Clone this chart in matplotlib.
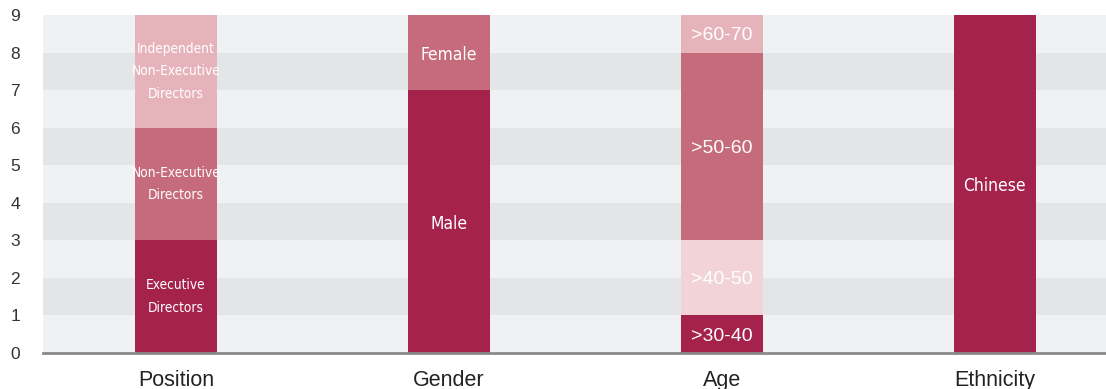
import matplotlib
matplotlib.use("Agg")
import matplotlib.pyplot as plt
from matplotlib import font_manager

# data
categories = ["Position", "Gender", "Age", "Ethnicity"]
position_labels = ["Executive\nDirectors", "Non-Executive\nDirectors", "Independent\nNon-Executive\nDirectors"]
position_values = [3, 3, 3]
gender_labels = ["Male", "Female"]
gender_values = [7, 2]
age_labels = [">30-40", ">40-50", ">50-60", ">60-70"]
age_values = [1, 2, 5, 1]
ethnicity_labels = ["Chinese"]
ethnicity_values = [9]

DARK = "#a4224b"
MID = "#c56b7b"
LIGHT = "#e6b3bb"
PALE = "#f2d3d8"

position_colors = [DARK, MID, LIGHT]
gender_colors = [DARK, MID]
age_colors = [DARK, PALE, MID, LIGHT]
ethnicity_colors = [DARK]

installed = {f.name for f in font_manager.fontManager.ttflist}
if "Liberation Sans Narrow" in installed:
    narrow = dict(family="Liberation Sans Narrow")
else:
    narrow = dict(family="DejaVu Sans", fontstretch="condensed")
regular = dict(family="Liberation Sans")

plt.rcParams["font.family"] = ["Liberation Sans", "DejaVu Sans"]

fig = plt.figure(figsize=(11.06, 3.89), dpi=100)
ax = fig.add_axes([0.0389, 0.0925, 0.9611, 0.8689])

# alternating background stripes
for i in range(9):
    ax.axhspan(i, i + 1, color="#e4e5e7" if i % 2 else "#f0f1f3", lw=0, zorder=0)

width = 0.30
stacks = [
    (position_values, position_colors, position_labels, narrow, 9.8, 1.8),
    (gender_values, gender_colors, gender_labels, narrow, 12.5, 1.3),
    (age_values, age_colors, age_labels, regular, 14, 1.3),
    (ethnicity_values, ethnicity_colors, ethnicity_labels, narrow, 12.5, 1.3),
]
for x, (vals, cols, labs, font, fs, ls) in enumerate(stacks):
    bottom = 0
    for v, c, lab in zip(vals, cols, labs):
        ax.bar(x, v, width, bottom=bottom, color=c, lw=0, zorder=2)
        va = "center" if "\n" in lab else "center_baseline"
        ax.text(x, bottom + v / 2, lab, ha="center", va=va, color="white",
                fontsize=fs, linespacing=ls, zorder=3, **font)
        bottom += v

ax.set_xlim(-0.487, 3.407)
ax.set_ylim(0, 9)
ax.set_xticks(range(len(categories)))
ax.set_xticklabels(categories, fontsize=15.5, color="#222222")
ax.set_yticks(range(10))
ax.set_yticklabels([str(i) for i in range(10)], fontsize=12.5, color="#333333", ha="center")
ax.tick_params(axis="y", length=0, pad=20)
ax.tick_params(axis="x", length=0, pad=12)
for s in ["top", "right", "left"]:
    ax.spines[s].set_visible(False)
ax.spines["bottom"].set_color("#8a8a8a")
ax.spines["bottom"].set_linewidth(2)
ax.spines["bottom"].set_zorder(4)

fig.savefig("out.png", dpi=100)
